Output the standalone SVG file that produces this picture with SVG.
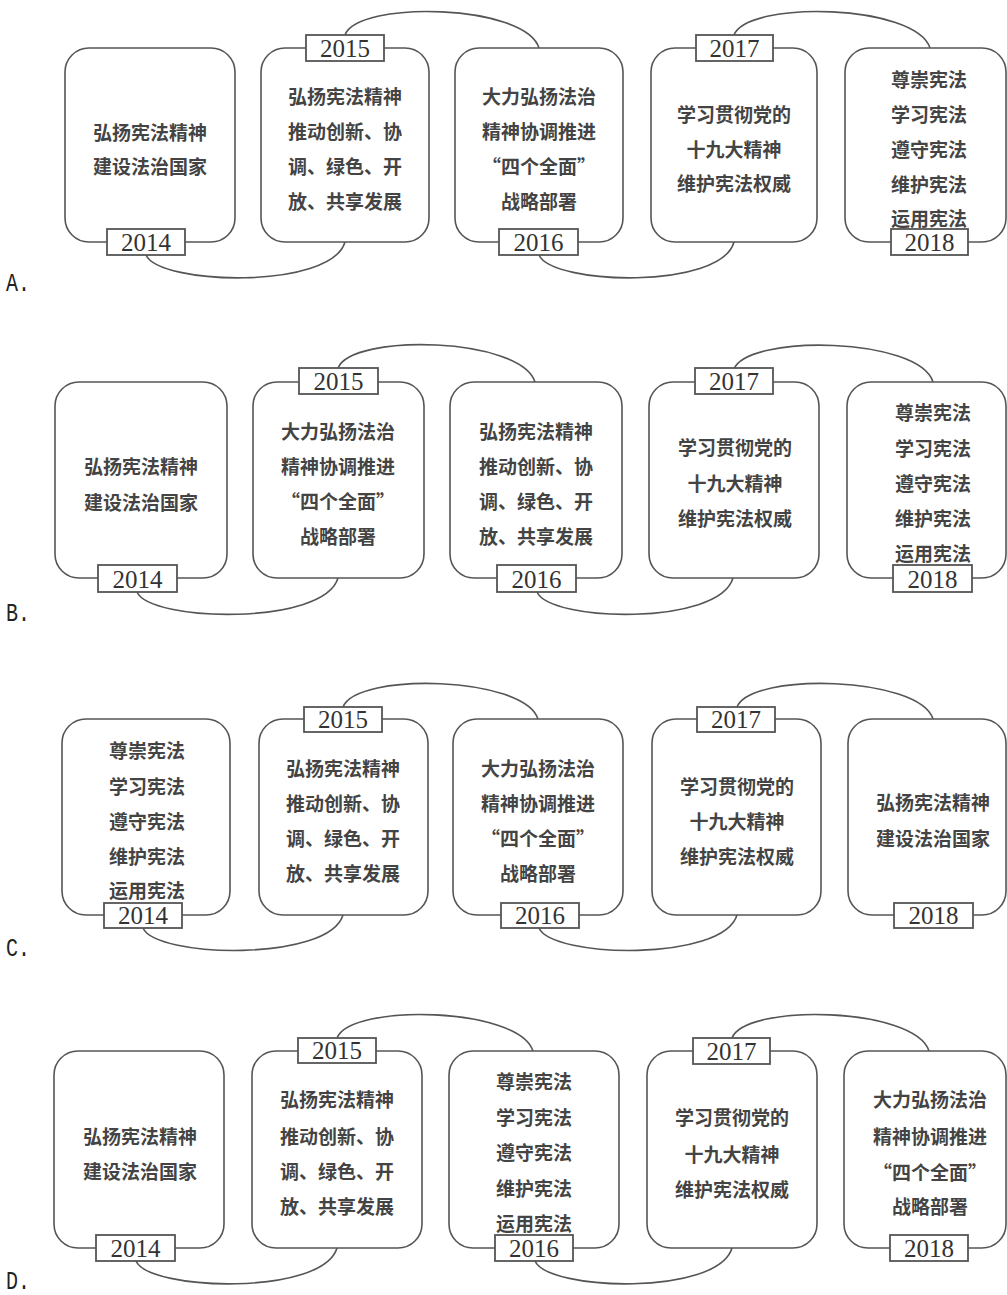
<svg xmlns="http://www.w3.org/2000/svg" width="1007" height="1295" viewBox="0 0 1007 1295">
<style>
.box{fill:#fff;stroke:#555;stroke-width:1.6}
.lab{fill:#fff;stroke:#555;stroke-width:1.8}
.con{fill:none;stroke:#555;stroke-width:1.6}
.t{font-family:"Noto Sans CJK SC","Noto Sans",sans-serif;font-size:19px;font-weight:bold;fill:#444;text-anchor:middle}
.y{font-family:"Liberation Serif","Times New Roman",serif;font-size:25px;fill:#333;text-anchor:middle}
.opt{font-family:"Liberation Mono",monospace;font-size:26px;fill:#222}
</style>
<rect width="1007" height="1295" fill="#fff"/>

<!-- ===== A ===== -->
<g id="connectors-A">
<path class="con" d="M146,255 C159,285 331,290 345,242"/>
<path class="con" d="M345,35 C358,0 526,4 539,48"/>
<path class="con" d="M539,255 C552,285 721,290 734,242"/>
<path class="con" d="M734,35 C748,0 916,4 930,48"/>
</g>
<g id="A-2014">
<rect class="box" x="65" y="48" width="170" height="194" rx="24"/>
<text class="t" x="150" y="140">弘扬宪法精神</text>
<text class="t" x="150" y="174">建设法治国家</text>
<rect class="lab" x="107" y="229" width="78" height="26"/>
<text class="y" x="146" y="251">2014</text>
</g>
<g id="A-2015">
<rect class="box" x="261" y="48" width="168" height="194" rx="24"/>
<text class="t" x="345" y="104">弘扬宪法精神</text>
<text class="t" x="345" y="139">推动创新、协</text>
<text class="t" x="345" y="174">调、绿色、开</text>
<text class="t" x="345" y="209">放、共享发展</text>
<rect class="lab" x="306" y="35" width="78" height="26"/>
<text class="y" x="345" y="57">2015</text>
</g>
<g id="A-2016">
<rect class="box" x="455" y="48" width="168" height="194" rx="24"/>
<text class="t" x="539" y="104">大力弘扬法治</text>
<text class="t" x="539" y="139">精神协调推进</text>
<text class="t" x="539" y="174">“四个全面”</text>
<text class="t" x="539" y="209">战略部署</text>
<rect class="lab" x="499" y="229" width="79" height="26"/>
<text class="y" x="538.5" y="251">2016</text>
</g>
<g id="A-2017">
<rect class="box" x="651" y="48" width="166" height="194" rx="24"/>
<text class="t" x="734" y="122">学习贯彻党的</text>
<text class="t" x="734" y="157">十九大精神</text>
<text class="t" x="734" y="191">维护宪法权威</text>
<rect class="lab" x="696" y="35" width="77" height="26"/>
<text class="y" x="734.5" y="57">2017</text>
</g>
<g id="A-2018">
<rect class="box" x="845" y="48" width="161" height="194" rx="24"/>
<text class="t" x="929" y="87">尊崇宪法</text>
<text class="t" x="929" y="122">学习宪法</text>
<text class="t" x="929" y="157">遵守宪法</text>
<text class="t" x="929" y="192">维护宪法</text>
<text class="t" x="929" y="226">运用宪法</text>
<rect class="lab" x="891" y="229" width="77" height="26"/>
<text class="y" x="929.5" y="251">2018</text>
</g>
<text class="opt" x="6" y="291" textLength="24" lengthAdjust="spacingAndGlyphs">A.</text>

<!-- ===== B ===== -->
<g id="connectors-B">
<path class="con" d="M137,592 C150,622 324,626 338,578"/>
<path class="con" d="M338,368 C352,333 521,337 535,382"/>
<path class="con" d="M537,592 C550,622 719,626 733,578"/>
<path class="con" d="M734,369 C748,334 919,337 933,382"/>
</g>
<g id="B-2014">
<rect class="box" x="55" y="382" width="172" height="196" rx="24"/>
<text class="t" x="141" y="474">弘扬宪法精神</text>
<text class="t" x="141" y="510">建设法治国家</text>
<rect class="lab" x="98" y="565" width="79" height="27"/>
<text class="y" x="137.5" y="588">2014</text>
</g>
<g id="B-2015">
<rect class="box" x="253" y="382" width="171" height="196" rx="24"/>
<text class="t" x="338" y="439">大力弘扬法治</text>
<text class="t" x="338" y="474">精神协调推进</text>
<text class="t" x="338" y="509">“四个全面”</text>
<text class="t" x="338" y="544">战略部署</text>
<rect class="lab" x="299" y="368" width="79" height="26"/>
<text class="y" x="338.5" y="390">2015</text>
</g>
<g id="B-2016">
<rect class="box" x="450" y="382" width="172" height="196" rx="24"/>
<text class="t" x="536" y="439">弘扬宪法精神</text>
<text class="t" x="536" y="474">推动创新、协</text>
<text class="t" x="536" y="509">调、绿色、开</text>
<text class="t" x="536" y="544">放、共享发展</text>
<rect class="lab" x="497" y="565" width="79" height="27"/>
<text class="y" x="536.5" y="588">2016</text>
</g>
<g id="B-2017">
<rect class="box" x="649" y="382" width="170" height="196" rx="24"/>
<text class="t" x="735" y="455">学习贯彻党的</text>
<text class="t" x="735" y="491">十九大精神</text>
<text class="t" x="735" y="526">维护宪法权威</text>
<rect class="lab" x="695" y="368" width="78" height="26"/>
<text class="y" x="734" y="390">2017</text>
</g>
<g id="B-2018">
<rect class="box" x="847" y="382" width="159" height="196" rx="24"/>
<text class="t" x="933" y="420">尊崇宪法</text>
<text class="t" x="933" y="456">学习宪法</text>
<text class="t" x="933" y="491">遵守宪法</text>
<text class="t" x="933" y="526">维护宪法</text>
<text class="t" x="933" y="561">运用宪法</text>
<rect class="lab" x="893" y="565" width="79" height="27"/>
<text class="y" x="932.5" y="588">2018</text>
</g>
<text class="opt" x="6" y="621" textLength="24" lengthAdjust="spacingAndGlyphs">B.</text>

<!-- ===== C ===== -->
<g id="connectors-C">
<path class="con" d="M143,928 C156,958 329,962 343,915"/>
<path class="con" d="M343,707 C357,672 524,676 538,719"/>
<path class="con" d="M539,928 C552,958 723,962 737,915"/>
<path class="con" d="M737,707 C751,672 919,676 933,719"/>
</g>
<g id="C-2014">
<rect class="box" x="62" y="719" width="168" height="196" rx="24"/>
<text class="t" x="147" y="758">尊崇宪法</text>
<text class="t" x="147" y="794">学习宪法</text>
<text class="t" x="147" y="829">遵守宪法</text>
<text class="t" x="147" y="864">维护宪法</text>
<text class="t" x="147" y="898">运用宪法</text>
<rect class="lab" x="104" y="903" width="78" height="25"/>
<text class="y" x="143" y="924">2014</text>
</g>
<g id="C-2015">
<rect class="box" x="259" y="719" width="169" height="196" rx="24"/>
<text class="t" x="343" y="776">弘扬宪法精神</text>
<text class="t" x="343" y="811">推动创新、协</text>
<text class="t" x="343" y="846">调、绿色、开</text>
<text class="t" x="343" y="881">放、共享发展</text>
<rect class="lab" x="304" y="707" width="78" height="25"/>
<text class="y" x="343" y="728">2015</text>
</g>
<g id="C-2016">
<rect class="box" x="453" y="719" width="170" height="196" rx="24"/>
<text class="t" x="538" y="776">大力弘扬法治</text>
<text class="t" x="538" y="811">精神协调推进</text>
<text class="t" x="538" y="846">“四个全面”</text>
<text class="t" x="538" y="881">战略部署</text>
<rect class="lab" x="501" y="903" width="78" height="25"/>
<text class="y" x="540" y="924">2016</text>
</g>
<g id="C-2017">
<rect class="box" x="652" y="719" width="169" height="196" rx="24"/>
<text class="t" x="737" y="794">学习贯彻党的</text>
<text class="t" x="737" y="829">十九大精神</text>
<text class="t" x="737" y="864">维护宪法权威</text>
<rect class="lab" x="697" y="707" width="78" height="25"/>
<text class="y" x="736" y="728">2017</text>
</g>
<g id="C-2018">
<rect class="box" x="848" y="719" width="158" height="196" rx="24"/>
<text class="t" x="933" y="810">弘扬宪法精神</text>
<text class="t" x="933" y="846">建设法治国家</text>
<rect class="lab" x="894" y="903" width="79" height="25"/>
<text class="y" x="933.5" y="924">2018</text>
</g>
<text class="opt" x="6" y="956" textLength="24" lengthAdjust="spacingAndGlyphs">C.</text>

<!-- ===== D ===== -->
<g id="connectors-D">
<path class="con" d="M136,1261 C149,1291 323,1296 337,1248"/>
<path class="con" d="M337,1038 C351,1003 519,1007 533,1051"/>
<path class="con" d="M535,1261 C548,1291 718,1296 732,1248"/>
<path class="con" d="M732,1038 C746,1003 915,1007 929,1051"/>
</g>
<g id="D-2014">
<rect class="box" x="54" y="1051" width="170" height="197" rx="24"/>
<text class="t" x="140" y="1144">弘扬宪法精神</text>
<text class="t" x="140" y="1179">建设法治国家</text>
<rect class="lab" x="96" y="1235" width="79" height="26"/>
<text class="y" x="135.5" y="1257">2014</text>
</g>
<g id="D-2015">
<rect class="box" x="252" y="1051" width="170" height="197" rx="24"/>
<text class="t" x="337" y="1107">弘扬宪法精神</text>
<text class="t" x="337" y="1144">推动创新、协</text>
<text class="t" x="337" y="1179">调、绿色、开</text>
<text class="t" x="337" y="1214">放、共享发展</text>
<rect class="lab" x="298" y="1038" width="78" height="25"/>
<text class="y" x="337" y="1059">2015</text>
</g>
<g id="D-2016">
<rect class="box" x="449" y="1051" width="170" height="197" rx="24"/>
<text class="t" x="534" y="1089">尊崇宪法</text>
<text class="t" x="534" y="1125">学习宪法</text>
<text class="t" x="534" y="1160">遵守宪法</text>
<text class="t" x="534" y="1196">维护宪法</text>
<text class="t" x="534" y="1231">运用宪法</text>
<rect class="lab" x="495" y="1235" width="78" height="26"/>
<text class="y" x="534" y="1257">2016</text>
</g>
<g id="D-2017">
<rect class="box" x="647" y="1051" width="170" height="197" rx="24"/>
<text class="t" x="732" y="1125">学习贯彻党的</text>
<text class="t" x="732" y="1162">十九大精神</text>
<text class="t" x="732" y="1197">维护宪法权威</text>
<rect class="lab" x="693" y="1038" width="77" height="26"/>
<text class="y" x="731.5" y="1060">2017</text>
</g>
<g id="D-2018">
<rect class="box" x="844" y="1051" width="162" height="197" rx="24"/>
<text class="t" x="930" y="1107">大力弘扬法治</text>
<text class="t" x="930" y="1144">精神协调推进</text>
<text class="t" x="930" y="1180">“四个全面”</text>
<text class="t" x="930" y="1214">战略部署</text>
<rect class="lab" x="890" y="1235" width="78" height="26"/>
<text class="y" x="929" y="1257">2018</text>
</g>
<text class="opt" x="6" y="1289" textLength="24" lengthAdjust="spacingAndGlyphs">D.</text>
</svg>
